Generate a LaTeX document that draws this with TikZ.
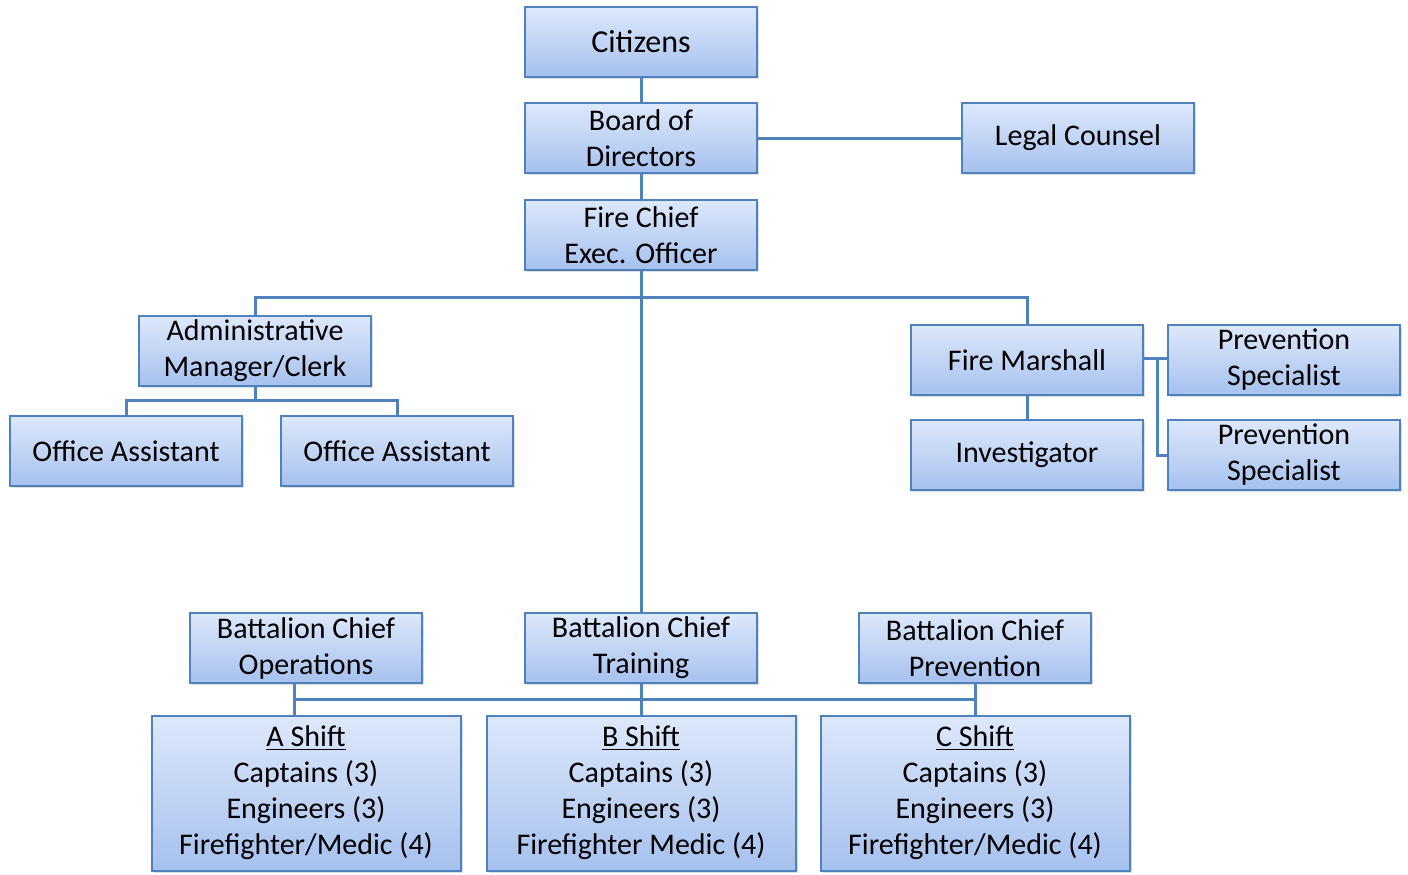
\documentclass[tikz,border=0pt]{standalone}
\usepackage{fontspec}
\setmainfont{Carlito}
\usetikzlibrary{positioning,shadows}
\definecolor{edge}{HTML}{4F81BD}
\definecolor{boxtop}{HTML}{DDE8FB}
\definecolor{boxbot}{HTML}{A6C1EE}
\tikzset{
  post/.style={draw=edge,line width=1pt,top color=boxtop,bottom color=boxbot,
    minimum width=116pt,minimum height=35pt,align=center,inner sep=2pt,
    font=\fontsize{15}{18}\selectfont,
    drop shadow={opacity=0.25,shadow xshift=1pt,shadow yshift=-1pt}},
  crew/.style={post,minimum width=154.5pt,minimum height=77.5pt},
  link/.style={draw=edge,line width=1.5pt}
}

\begin{document}
\begin{tikzpicture}[x=0.5pt,y=-0.5pt]
\useasboundingbox (0,0) rectangle (1408,874);
% top of the chain
\node[post,font=\fontsize{16}{18}\selectfont] (cit) at (641,42) {Citizens};
\node[post] (board) at (641,138) {Board of\\Directors};
\node[post] (legal) at (1078,138) {Legal Counsel};
\node[post] (chief) at (641,235) {Fire Chief\\Exec. Officer};
% office side
\node[post] (admin) at (255,351) {Administrative\\Manager/Clerk};
\node[post] (off1) at (126,451) {Office Assistant};
\node[post] (off2) at (397,451) {Office Assistant};
% prevention side
\node[post] (marsh) at (1027,360) {Fire Marshall};
\node[post] (inv) at (1027,455) {Investigator};
\node[post] (prev1) at (1284,360) {Prevention\\Specialist};
\node[post] (prev2) at (1284,455) {Prevention\\Specialist};
% battalions and shifts
\node[post] (bops) at (306,648) {Battalion Chief\\Operations};
\node[post] (btrain) at (641,648) {Battalion Chief\\Training};
\node[post] (bprev) at (975,648) {Battalion Chief\\Prevention};
\node[crew] (ashift) at (306,793) {\underline{A Shift}\\Captains (3)\\Engineers (3)\\Firefighter/Medic (4)};
\node[crew] (bshift) at (641,793) {\underline{B Shift}\\Captains (3)\\Engineers (3)\\Firefighter Medic (4)};
\node[crew] (cshift) at (975,793) {\underline{C Shift}\\Captains (3)\\Engineers (3)\\Firefighter/Medic (4)};

\coordinate (split) at (641,297);
\coordinate (offbus) at (255,400);
\coordinate (pbus) at (1157,358);
\coordinate (opsdrop) at (294,699);

\draw[link] (cit) -- (board);
\draw[link] (board) -- (legal);
\draw[link] (board) -- (chief);
\draw[link] (chief) -- (btrain);
\draw[link] (admin.north) |- (split) -| (marsh.north);
\draw[link] (admin.south) -- (offbus);
\draw[link] (off1.north) |- (offbus) -| (off2.north);
\draw[link] (marsh) -- (inv);
\draw[link] (marsh.east |- pbus) -- (prev1.west |- pbus);
\draw[link] (pbus) |- (prev2.west);
\draw[link] (opsdrop |- bops.south) -- (opsdrop |- ashift.north);
\draw[link] (opsdrop) -| (bprev.south);
\draw[link] (bprev) -- (cshift);
\draw[link] (btrain) -- (bshift);
\end{tikzpicture}
\end{document}
